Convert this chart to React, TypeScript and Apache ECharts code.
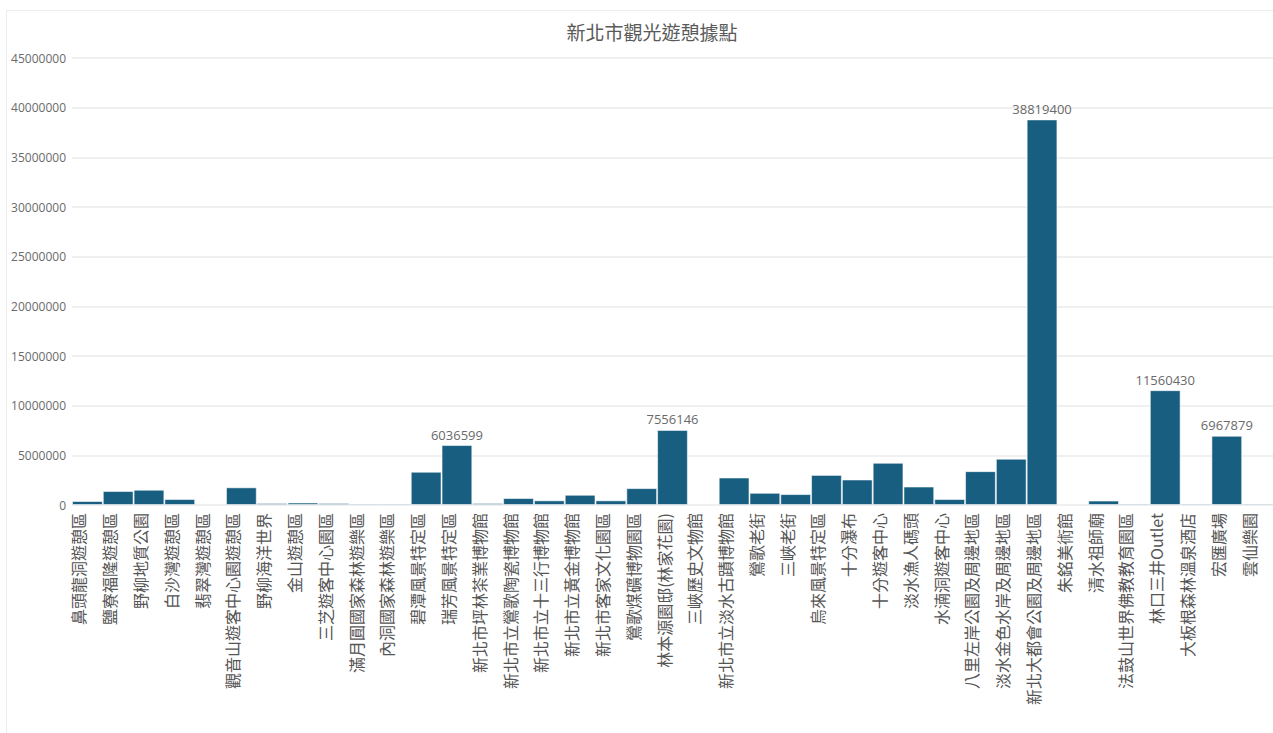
import React, { useEffect, useRef } from "react";
import * as echarts from "echarts";

const TITLE = "新北市觀光遊憩據點";

const categories: string[] = [
  "鼻頭龍洞遊憩區",
  "鹽寮福隆遊憩區",
  "野柳地質公園",
  "白沙灣遊憩區",
  "翡翠灣遊憩區",
  "觀音山遊客中心園遊憩區",
  "野柳海洋世界",
  "金山遊憩區",
  "三芝遊客中心園區",
  "滿月圓國家森林遊樂區",
  "內洞國家森林遊樂區",
  "碧潭風景特定區",
  "瑞芳風景特定區",
  "新北市坪林茶業博物館",
  "新北市立鶯歌陶瓷博物館",
  "新北市立十三行博物館",
  "新北市立黃金博物館",
  "新北市客家文化園區",
  "鶯歌煤礦博物園區",
  "林本源園邸(林家花園)",
  "三峽歷史文物館",
  "新北市立淡水古蹟博物館",
  "鶯歌老街",
  "三峽老街",
  "烏來風景特定區",
  "十分瀑布",
  "十分遊客中心",
  "淡水漁人碼頭",
  "水湳洞遊客中心",
  "八里左岸公園及周邊地區",
  "淡水金色水岸及周邊地區",
  "新北大都會公園及周邊地區",
  "朱銘美術館",
  "清水祖師廟",
  "法鼓山世界佛教教育園區",
  "林口三井Outlet",
  "大板根森林溫泉酒店",
  "宏匯廣場",
  "雲仙樂園",
];

const visitors: (number | null)[] = [
  400000, 1410000, 1540000, 600000, null, 1780000, 200000, 250000, 200000,
  150000, 150000, 3350000, 6036599, 200000, 700000, 470000, 1030000, 470000,
  1700000, 7556146, null, 2770000, 1230000, 1100000, 3030000, 2570000, 4250000,
  1860000, 600000, 3410000, 4660000, 38819400, null, 450000, 150000, 11560430,
  150000, 6967879, 150000,
];

const yMin = 0;
const yMax = 45000000;
const yInterval = 5000000;
const labelThreshold = 5000000;

export default function App() {
  const ref = useRef<HTMLDivElement>(null);

  useEffect(() => {
    if (!ref.current) return;
    const chart = echarts.init(ref.current, undefined, { renderer: "svg" });
    chart.setOption({
      animation: false,
      backgroundColor: "#ffffff",
      title: {
        text: TITLE,
        left: 647,
        top: 17,
        textAlign: "center",
        textStyle: {
          fontFamily: "Noto Sans CJK TC",
          fontSize: 19,
          fontWeight: "normal",
          color: "#5a5a5a",
        },
      },
      graphic: [
        {
          type: "rect",
          shape: { x: 6.5, y: 10.5, width: 1400, height: 900 },
          style: { fill: "none", stroke: "#ececec", lineWidth: 1 },
          silent: true,
        },
      ],
      grid: { left: 72, right: 0, top: 58, bottom: 228, containLabel: false },
      xAxis: {
        type: "category",
        data: categories,
        axisLine: { show: false },
        axisTick: { show: false },
        axisLabel: {
          interval: 0,
          rotate: 90,
          margin: 8,
          verticalAlign: "bottom",
          lineHeight: 18,
          fontFamily: "Noto Sans CJK TC",
          fontSize: 16,
          color: "#555555",
        },
      },
      yAxis: {
        type: "value",
        min: yMin,
        max: yMax,
        interval: yInterval,
        axisLine: { show: false },
        axisTick: { show: false },
        axisLabel: {
          margin: 6,
          fontFamily: "Open Sans",
          fontSize: 12,
          color: "#6a6a6a",
          formatter: (v: number) => String(v),
        },
        splitLine: { lineStyle: { color: "#f0f0f0", width: 2 } },
      },
      series: [
        {
          type: "bar",
          data: visitors,
          barCategoryGap: "0%",
          itemStyle: {
            color: "#175e81",
            borderColor: "rgba(255,255,255,0.55)",
            borderWidth: 1,
          },
          label: {
            show: true,
            position: "top",
            distance: 4,
            fontFamily: "Open Sans",
            fontSize: 13,
            color: "#6a6a6a",
            formatter: (p: any) =>
              p.value != null && p.value > labelThreshold ? String(p.value) : "",
          },
        },
      ],
    });
    return () => chart.dispose();
  }, []);

  return (
    <div
      style={{
        position: "fixed",
        left: 0,
        top: 0,
        width: "100vw",
        height: "100vh",
        overflow: "hidden",
        background: "#fff",
      }}
    >
      <div
        ref={ref}
        style={{ position: "absolute", left: 0, top: 0, width: 1273, height: 733 }}
      />
    </div>
  );
}
